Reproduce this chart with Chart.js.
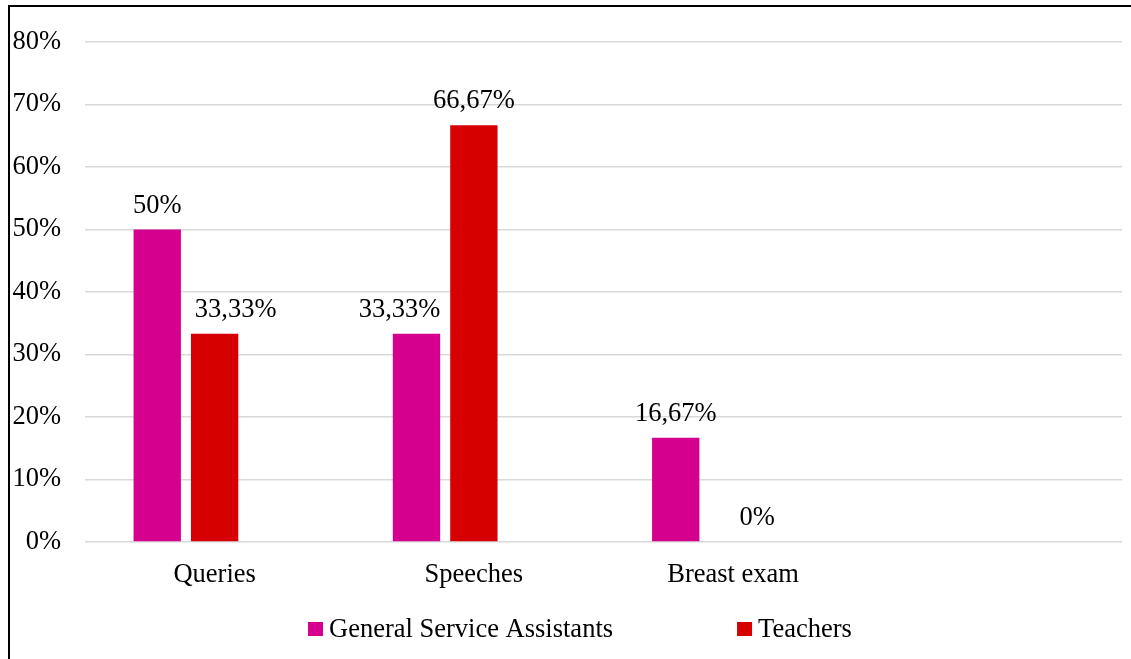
<!DOCTYPE html>
<html>
<head>
<meta charset="utf-8">
<script src="https://cdn.jsdelivr.net/npm/chart.js@4"></script>
<style>
    body { margin: 0; background: #fff; }
    #frame {
        position: absolute;
        left: 8px;
        top: 5px;
        width: 1123px;
        height: 654px;
        border-top: 2px solid #000;
        border-left: 2px solid #000;
    }
    #chart { position: absolute; left: 0; top: 0; }
</style>
</head>
<body>
<div id="frame"></div>
<canvas id="chart" width="1131" height="659"></canvas>
<script>
const categories = ['Queries', 'Speeches', 'Breast exam', ''];
const assistants = [50, 33.33, 16.67, null];
const teachers = [33.33, 66.67, 0, null];
const yTicks = [0, 10, 20, 30, 40, 50, 60, 70, 80];

const FONT = "'Liberation Serif', 'Times New Roman', serif";
const FONT_SIZE = 26.5;
const PINK = '#d6008f';
const RED = '#d70000';

function formatPercent(v) {
    if (Number.isInteger(v)) return v + '%';
    return v.toFixed(2).replace('.', ',') + '%';
}

// value labels above each bar, nudged sideways where the original moved them
const barLabels = {
    id: 'barLabels',
    afterDatasetsDraw(chart, args, opts) {
        const ctx = chart.ctx;
        ctx.save();
        ctx.font = `${FONT_SIZE}px ${FONT}`;
        ctx.fillStyle = '#000';
        ctx.textAlign = 'center';
        ctx.textBaseline = 'alphabetic';
        chart.data.datasets.forEach((ds, di) => {
            const meta = chart.getDatasetMeta(di);
            meta.data.forEach((bar, i) => {
                const v = ds.data[i];
                if (v === null || v === undefined) return;
                const shift = (opts.shifts[di] || [])[i] || 0;
                ctx.fillText(formatPercent(v), bar.x + shift, bar.y - 17);
            });
        });
        ctx.restore();
    }
};

// legend drawn by hand so the wide spacing between entries matches
const bottomLegend = {
    id: 'bottomLegend',
    afterDraw(chart, args, opts) {
        const ctx = chart.ctx;
        ctx.save();
        ctx.font = `${FONT_SIZE}px ${FONT}`;
        ctx.textBaseline = 'alphabetic';
        ctx.textAlign = 'left';
        let x = opts.x;
        chart.data.datasets.forEach(ds => {
            if (!ds.label) return;
            ctx.fillStyle = ds.backgroundColor;
            ctx.fillRect(x, opts.y - 15, 15, 14);
            ctx.fillStyle = '#000';
            ctx.fillText(ds.label, x + 21, opts.y);
            x += 21 + ctx.measureText(ds.label).width + opts.gap;
        });
        ctx.restore();
    }
};

new Chart(document.getElementById('chart'), {
    type: 'bar',
    data: {
        labels: categories,
        datasets: [
            { label: 'General Service Assistants', data: assistants, backgroundColor: PINK },
            { label: 'Teachers', data: teachers, backgroundColor: RED },
            // empty third slot keeps the bars where the original grouping put them
            { label: '', data: [null, null, null, null], backgroundColor: 'transparent' }
        ]
    },
    options: {
        responsive: false,
        animation: false,
        devicePixelRatio: 1,
        categoryPercentage: 0.664,
        barPercentage: 0.825,
        layout: { padding: { top: 42, right: 9, left: 0, bottom: 0 } },
        scales: {
            x: {
                grid: { display: false },
                border: { display: false },
                ticks: { color: '#000', font: { family: FONT, size: FONT_SIZE }, padding: 9 },
                afterFit: s => { s.height = 117; }
            },
            y: {
                min: 0,
                max: 80,
                afterBuildTicks: s => { s.ticks = yTicks.map(v => ({ value: v })); },
                grid: { color: '#d9d9d9', lineWidth: 1.5, drawTicks: false },
                border: { display: false },
                ticks: {
                    color: '#000',
                    font: { family: FONT, size: FONT_SIZE },
                    padding: 24,
                    callback: v => v + '%'
                },
                afterFit: s => { s.width = 85; }
            }
        },
        plugins: {
            legend: { display: false },
            tooltip: { enabled: false },
            barLabels: { shifts: [[0, -17, 0], [21, 0, 24]] },
            bottomLegend: { x: 308, y: 637, gap: 124 }
        }
    },
    plugins: [barLabels, bottomLegend]
});
</script>
</body>
</html>
